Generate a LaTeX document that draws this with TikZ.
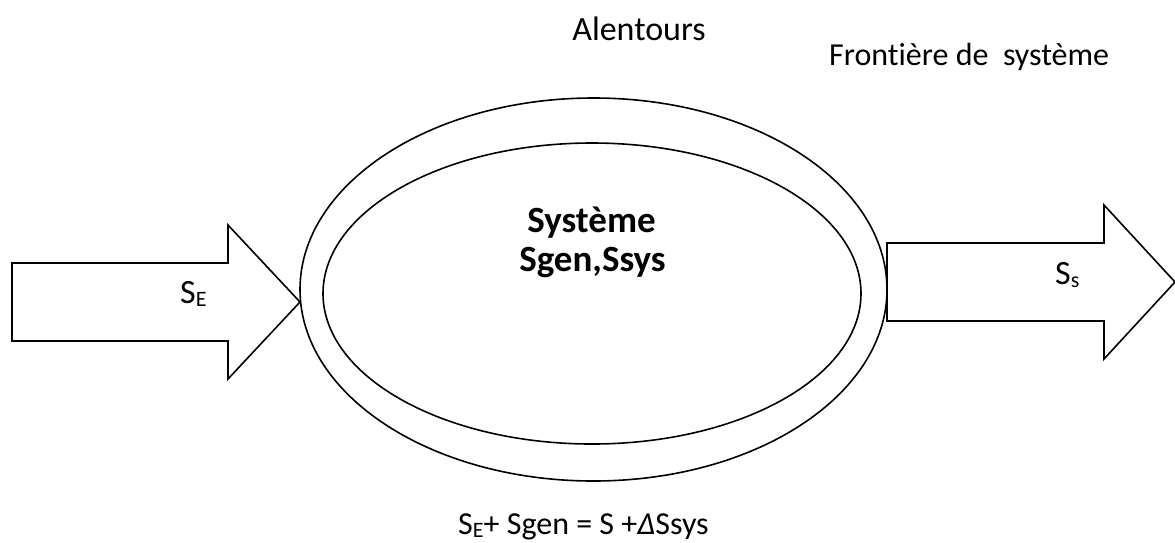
\documentclass[tikz,border=0pt]{standalone}
\usepackage{fontspec}
\setmainfont{Carlito}[Ligatures=NoCommon]
\usetikzlibrary{shapes.geometric}

% subscript set slightly below the baseline, as in the labels
\newcommand{\lowsub}[1]{\raisebox{-3pt}{\fontsize{22}{22}\selectfont #1}}

\tikzset{
  outline/.style={draw=black, line width=1.6pt, line join=miter},
  ring/.style={ellipse, draw=black, line width=1.6pt, inner sep=0pt},
  lbl/.style={inner sep=0pt, font=\fontsize{32}{38}\selectfont},
  bold/.style={inner sep=0pt, font=\fontsize{37}{39}\selectfont\bfseries},
}

\begin{document}
\begin{tikzpicture}[x=1pt, y=-1pt]
  \useasboundingbox (0,0) rectangle (1175,542);

  % system boundary (outer) and system (inner)
  \node[ring, minimum width=587pt, minimum height=383pt] (boundary) at (593.5,289.5) {};
  \node[ring, minimum width=538pt, minimum height=301pt] (system) at (592,293.5) {};

  % entropy entering: block arrow pointing at the boundary
  \draw[outline] (12,263) -- (228,263) -- (228,225) -- (300,302)
                 -- (228,379) -- (228,341) -- (12,341) -- cycle;

  % entropy leaving: block arrow starting at the boundary
  \draw[outline] (887,243) -- (1104,243) -- (1104,205) -- (1175,282)
                 -- (1104,359) -- (1104,321) -- (887,321) -- cycle;

  % labels
  \node[lbl, anchor=base] (surround) at (639,40) {\fontsize{34}{38}\selectfont Alentours};
  \node[lbl, anchor=base west] (frontier) at (829,65) {Frontière de~~système};
  \node[bold, anchor=base] (sysname) at (591.5,232) {Système};
  \node[bold, anchor=base] (sysvars) at (592.5,271) {Sgen,Ssys};
  \node[lbl, anchor=base west] (sin) at (180,303) {\fontsize{34}{38}\selectfont S\lowsub{E}};
  \node[lbl, anchor=base west] (sout) at (1055,284) {\fontsize{34}{38}\selectfont S\lowsub{s}};
  \node[lbl, anchor=base west] (balance) at (458,534)
    {S\lowsub{E}+ Sgen = S +\textit{Δ}Ssys};
\end{tikzpicture}
\end{document}
